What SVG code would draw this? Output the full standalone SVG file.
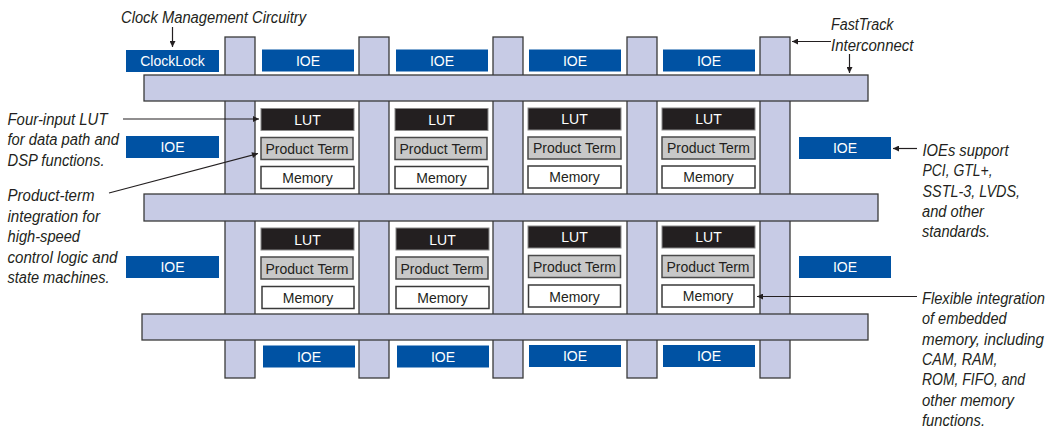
<svg xmlns="http://www.w3.org/2000/svg" width="1057" height="430" viewBox="0 0 1057 430">
<defs>
<style>
.bar{fill:#c7cbe5;stroke:#3a3a3a;stroke-width:1.3}
.ioe{fill:#0052a3}
.lut{fill:#231f20;stroke:#8a8a8a;stroke-width:1}
.pt{fill:#c8c8c8;stroke:#4a4a4a;stroke-width:1.5}
.mem{fill:#ffffff;stroke:#3a3a3a;stroke-width:1.5}
.lbl{font-family:"Liberation Sans",Arial,sans-serif;font-size:14px;text-anchor:middle}
.w{fill:#ffffff}
.d{fill:#231f20}
.note{font-family:"Liberation Sans",Arial,sans-serif;font-size:16px;font-style:italic;fill:#231f20}
.conn{stroke:#231f20;stroke-width:1.2;fill:none;marker-end:url(#ah)}
</style>
<marker id="ah" viewBox="0 0 10 10" refX="10" refY="5" markerWidth="7" markerHeight="6" orient="auto" markerUnits="userSpaceOnUse">
<path d="M0,0 L10,5 L0,10 z" fill="#231f20"/>
</marker>
</defs>
<rect width="1057" height="430" fill="#ffffff"/>

<g id="fasttrack-vertical">
<rect class="bar" x="225" y="37" width="30" height="341"/>
<rect class="bar" x="359" y="37" width="30" height="341"/>
<rect class="bar" x="493" y="37" width="30" height="341"/>
<rect class="bar" x="627" y="37" width="30" height="341"/>
<rect class="bar" x="760" y="37" width="30" height="341"/>
</g>
<g id="fasttrack-horizontal">
<rect class="bar" x="144" y="75" width="724" height="26"/>
<rect class="bar" x="144" y="194" width="734" height="27"/>
<rect class="bar" x="142" y="314" width="726" height="26"/>
</g>

<g id="clocklock">
<rect class="ioe" x="126" y="50" width="93" height="22"/>
<text class="lbl w" x="172.5" y="66">ClockLock</text>
</g>

<g id="ioe-top-1"><rect class="ioe" x="262" y="49.5" width="92" height="22"/><text class="lbl w" x="308" y="65.5">IOE</text></g>
<g id="ioe-top-2"><rect class="ioe" x="396" y="49.5" width="92" height="22"/><text class="lbl w" x="442" y="65.5">IOE</text></g>
<g id="ioe-top-3"><rect class="ioe" x="529" y="49.5" width="92" height="22"/><text class="lbl w" x="575" y="65.5">IOE</text></g>
<g id="ioe-top-4"><rect class="ioe" x="663" y="49.5" width="92" height="22"/><text class="lbl w" x="709" y="65.5">IOE</text></g>

<g id="ioe-left-1"><rect class="ioe" x="126" y="136" width="93" height="22"/><text class="lbl w" x="172.5" y="152">IOE</text></g>
<g id="ioe-left-2"><rect class="ioe" x="126" y="256" width="93" height="22"/><text class="lbl w" x="172.5" y="272">IOE</text></g>
<g id="ioe-right-1"><rect class="ioe" x="799" y="137" width="92" height="22"/><text class="lbl w" x="845" y="153">IOE</text></g>
<g id="ioe-right-2"><rect class="ioe" x="799" y="256" width="92" height="22"/><text class="lbl w" x="845" y="272">IOE</text></g>

<g id="ioe-bottom-1"><rect class="ioe" x="263" y="345.5" width="92" height="22"/><text class="lbl w" x="309" y="361.5">IOE</text></g>
<g id="ioe-bottom-2"><rect class="ioe" x="397" y="345.5" width="92" height="22"/><text class="lbl w" x="443" y="361.5">IOE</text></g>
<g id="ioe-bottom-3"><rect class="ioe" x="529" y="345" width="92" height="22"/><text class="lbl w" x="575" y="361">IOE</text></g>
<g id="ioe-bottom-4"><rect class="ioe" x="663" y="345" width="92" height="22"/><text class="lbl w" x="709" y="361">IOE</text></g>

<g id="cell-r1-c1">
<rect class="lut" x="261" y="108.5" width="93" height="22"/><text class="lbl w" x="307.5" y="124.5">LUT</text>
<rect class="pt" x="261" y="137.5" width="92" height="22"/><text class="lbl d" x="307" y="153.5">Product Term</text>
<rect class="mem" x="261" y="166.5" width="93" height="22"/><text class="lbl d" x="307.5" y="182.5">Memory</text>
</g>
<g id="cell-r1-c2">
<rect class="lut" x="395" y="108.5" width="93" height="22"/><text class="lbl w" x="441.5" y="124.5">LUT</text>
<rect class="pt" x="395" y="137.5" width="92" height="22"/><text class="lbl d" x="441" y="153.5">Product Term</text>
<rect class="mem" x="395" y="166.5" width="93" height="22"/><text class="lbl d" x="441.5" y="182.5">Memory</text>
</g>
<g id="cell-r1-c3">
<rect class="lut" x="528" y="108" width="93" height="22"/><text class="lbl w" x="574.5" y="123.5">LUT</text>
<rect class="pt" x="528" y="137" width="93" height="22"/><text class="lbl d" x="574.5" y="153">Product Term</text>
<rect class="mem" x="528" y="166" width="93" height="22"/><text class="lbl d" x="574.5" y="182">Memory</text>
</g>
<g id="cell-r1-c4">
<rect class="lut" x="662" y="108" width="93" height="22"/><text class="lbl w" x="708.5" y="124">LUT</text>
<rect class="pt" x="662" y="137" width="93" height="22"/><text class="lbl d" x="708.5" y="153">Product Term</text>
<rect class="mem" x="662" y="166" width="93" height="22"/><text class="lbl d" x="708.5" y="182">Memory</text>
</g>

<g id="cell-r2-c1">
<rect class="lut" x="261" y="228" width="93" height="22"/><text class="lbl w" x="307.5" y="244.5">LUT</text>
<rect class="pt" x="261" y="257" width="92" height="22"/><text class="lbl d" x="307" y="273.5">Product Term</text>
<rect class="mem" x="262" y="286.5" width="92" height="22"/><text class="lbl d" x="308" y="303">Memory</text>
</g>
<g id="cell-r2-c2">
<rect class="lut" x="396" y="228" width="93" height="22"/><text class="lbl w" x="442.5" y="244.5">LUT</text>
<rect class="pt" x="396" y="257" width="92" height="22"/><text class="lbl d" x="442" y="273.5">Product Term</text>
<rect class="mem" x="396" y="286.5" width="93" height="22"/><text class="lbl d" x="442.5" y="303">Memory</text>
</g>
<g id="cell-r2-c3">
<rect class="lut" x="528" y="226" width="93" height="22"/><text class="lbl w" x="574.5" y="242">LUT</text>
<rect class="pt" x="528.5" y="255.5" width="92" height="22"/><text class="lbl d" x="574.5" y="271.5">Product Term</text>
<rect class="mem" x="528.5" y="285" width="92" height="22"/><text class="lbl d" x="574.5" y="301.5">Memory</text>
</g>
<g id="cell-r2-c4">
<rect class="lut" x="662" y="226" width="93" height="22"/><text class="lbl w" x="708.5" y="242">LUT</text>
<rect class="pt" x="662" y="255.5" width="92" height="22"/><text class="lbl d" x="708" y="271.5">Product Term</text>
<rect class="mem" x="662" y="285" width="92" height="22"/><text class="lbl d" x="708" y="300.5">Memory</text>
</g>

<g id="connectors">
<line class="conn" x1="172.5" y1="27" x2="172.5" y2="47"/>
<line class="conn" x1="831" y1="41.5" x2="792" y2="41.5"/>
<line class="conn" x1="849.5" y1="54" x2="849.5" y2="73"/>
<line class="conn" x1="123" y1="119" x2="259" y2="119"/>
<line class="conn" x1="109" y1="193" x2="258" y2="153.5"/>
<line class="conn" x1="917" y1="148.5" x2="893" y2="148.5"/>
<line class="conn" x1="917" y1="296.5" x2="757" y2="296.5"/>
</g>

<g id="note-clock">
<text class="note" x="121" y="23" textLength="185" lengthAdjust="spacingAndGlyphs">Clock Management Circuitry</text>
</g>
<g id="note-fasttrack">
<text class="note" x="831" y="30" textLength="62.5" lengthAdjust="spacingAndGlyphs">FastTrack</text>
<text class="note" x="831" y="50.5" textLength="82.5" lengthAdjust="spacingAndGlyphs">Interconnect</text>
</g>
<g id="note-lut">
<text class="note" x="7.5" y="124.5" textLength="100" lengthAdjust="spacingAndGlyphs">Four-input LUT</text>
<text class="note" x="7.5" y="145" textLength="111.5" lengthAdjust="spacingAndGlyphs">for data path and</text>
<text class="note" x="7.5" y="165.5" textLength="97" lengthAdjust="spacingAndGlyphs">DSP functions.</text>
</g>
<g id="note-product">
<text class="note" x="7.5" y="200.5" textLength="87" lengthAdjust="spacingAndGlyphs">Product-term</text>
<text class="note" x="7.5" y="221.5" textLength="92.5" lengthAdjust="spacingAndGlyphs">integration for</text>
<text class="note" x="7.5" y="242" textLength="72.5" lengthAdjust="spacingAndGlyphs">high-speed</text>
<text class="note" x="7.5" y="262.5" textLength="110" lengthAdjust="spacingAndGlyphs">control logic and</text>
<text class="note" x="7.5" y="282.5" textLength="102" lengthAdjust="spacingAndGlyphs">state machines.</text>
</g>
<g id="note-ioe">
<text class="note" x="922.5" y="156" textLength="86" lengthAdjust="spacingAndGlyphs">IOEs support</text>
<text class="note" x="922.5" y="176" textLength="70" lengthAdjust="spacingAndGlyphs">PCI, GTL+,</text>
<text class="note" x="922.5" y="196.5" textLength="97.5" lengthAdjust="spacingAndGlyphs">SSTL-3, LVDS,</text>
<text class="note" x="922" y="216.5" textLength="62" lengthAdjust="spacingAndGlyphs">and other</text>
<text class="note" x="922" y="236.5" textLength="68" lengthAdjust="spacingAndGlyphs">standards.</text>
</g>
<g id="note-memory">
<text class="note" x="922" y="303.5" textLength="123" lengthAdjust="spacingAndGlyphs">Flexible integration</text>
<text class="note" x="922" y="324" textLength="84.5" lengthAdjust="spacingAndGlyphs">of embedded</text>
<text class="note" x="922" y="344.5" textLength="122" lengthAdjust="spacingAndGlyphs">memory, including</text>
<text class="note" x="922" y="365" textLength="75.5" lengthAdjust="spacingAndGlyphs">CAM, RAM,</text>
<text class="note" x="922" y="385" textLength="103" lengthAdjust="spacingAndGlyphs">ROM, FIFO, and</text>
<text class="note" x="922" y="405.5" textLength="92" lengthAdjust="spacingAndGlyphs">other memory</text>
<text class="note" x="922" y="425.5" textLength="63" lengthAdjust="spacingAndGlyphs">functions.</text>
</g>
</svg>
